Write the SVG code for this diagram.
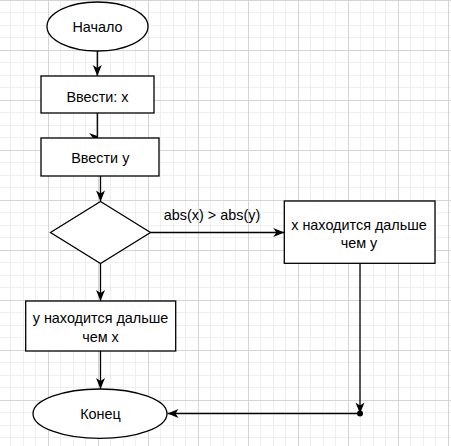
<svg xmlns="http://www.w3.org/2000/svg" width="451" height="446" viewBox="0 0 451 446">
  <defs>
    <pattern id="grid" patternUnits="userSpaceOnUse" x="48" y="0" width="50" height="50">
      <path d="M12.5,0V50M25.5,0V50M37.5,0V50M0,12.5H50M0,25.5H50M0,37.5H50" stroke="#efefef" stroke-width="1" fill="none"/>
      <path d="M0.5,0V50M0,0.5H50" stroke="#d4d4d4" stroke-width="1" fill="none"/>
    </pattern>
    <marker id="arr" markerUnits="userSpaceOnUse" markerWidth="13" markerHeight="11" viewBox="-12 -5.5 13 11" refX="0" refY="0" orient="auto">
      <path d="M0,0 L-11,-4.5 L-8,0 L-11,4.5 Z" fill="#000"/>
    </marker>
    <style>
      .shape { fill: #fff; stroke: #000; stroke-width: 1.3; }
      .edge { fill: none; stroke: #000; stroke-width: 1.3; }
      text { font-family: "Liberation Sans", Arial, sans-serif; font-size: 14.4px; fill: #000; text-anchor: middle; }
    </style>
  </defs>
  <rect x="0" y="0" width="451" height="446" fill="#fff"/>
  <rect x="0" y="0" width="451" height="446" fill="url(#grid)"/>

  <g id="connectors">
    <path class="edge" d="M97.3,51 V76" marker-end="url(#arr)"/>
    <path class="edge" d="M97.3,113 V138"/>
    <polygon points="89,133 97.3,136 97.3,138 93,138" fill="#000"/>
    <path class="edge" d="M100.5,176 V201.5" marker-end="url(#arr)"/>
    <path class="edge" d="M100.5,263.5 V301" marker-end="url(#arr)"/>
    <path class="edge" d="M100.5,351 V389" marker-end="url(#arr)"/>
    <path class="edge" d="M150.5,232.5 H284.3" marker-end="url(#arr)"/>
    <text x="212" y="220">abs(x) &gt; abs(y)</text>
    <path class="edge" d="M360,263.3 V413.5" marker-end="url(#arr)"/>
    <path class="edge" d="M360,413.5 H167.5" marker-end="url(#arr)"/>
    <circle cx="360" cy="413.5" r="3" fill="#000"/>
  </g>

  <g id="start">
    <ellipse class="shape" cx="97.5" cy="26.5" rx="50.5" ry="24.5"/>
    <text x="97.5" y="31.5">Начало</text>
  </g>
  <g id="input-x">
    <rect class="shape" x="41" y="76" width="113" height="37"/>
    <text x="97.5" y="101.5">Ввести: х</text>
  </g>
  <g id="input-y">
    <rect class="shape" x="41" y="138" width="118" height="38"/>
    <text x="100.3" y="162.5">Ввести у</text>
  </g>
  <g id="decision">
    <polygon class="shape" points="100.5,201.5 150.5,232.5 100.5,263.5 50.5,232.5"/>
  </g>
  <g id="y-farther">
    <rect class="shape" x="25.7" y="301" width="150" height="50"/>
    <text x="100.5" y="323">у находится дальше</text>
    <text x="100.5" y="341.5">чем х</text>
  </g>
  <g id="x-farther">
    <rect class="shape" x="284.3" y="201" width="150.7" height="62.3"/>
    <text x="359" y="230">х находится дальше</text>
    <text x="359" y="248">чем у</text>
  </g>
  <g id="end">
    <ellipse class="shape" cx="100" cy="413.7" rx="67" ry="24.7"/>
    <text x="100.5" y="419">Конец</text>
  </g>
</svg>
